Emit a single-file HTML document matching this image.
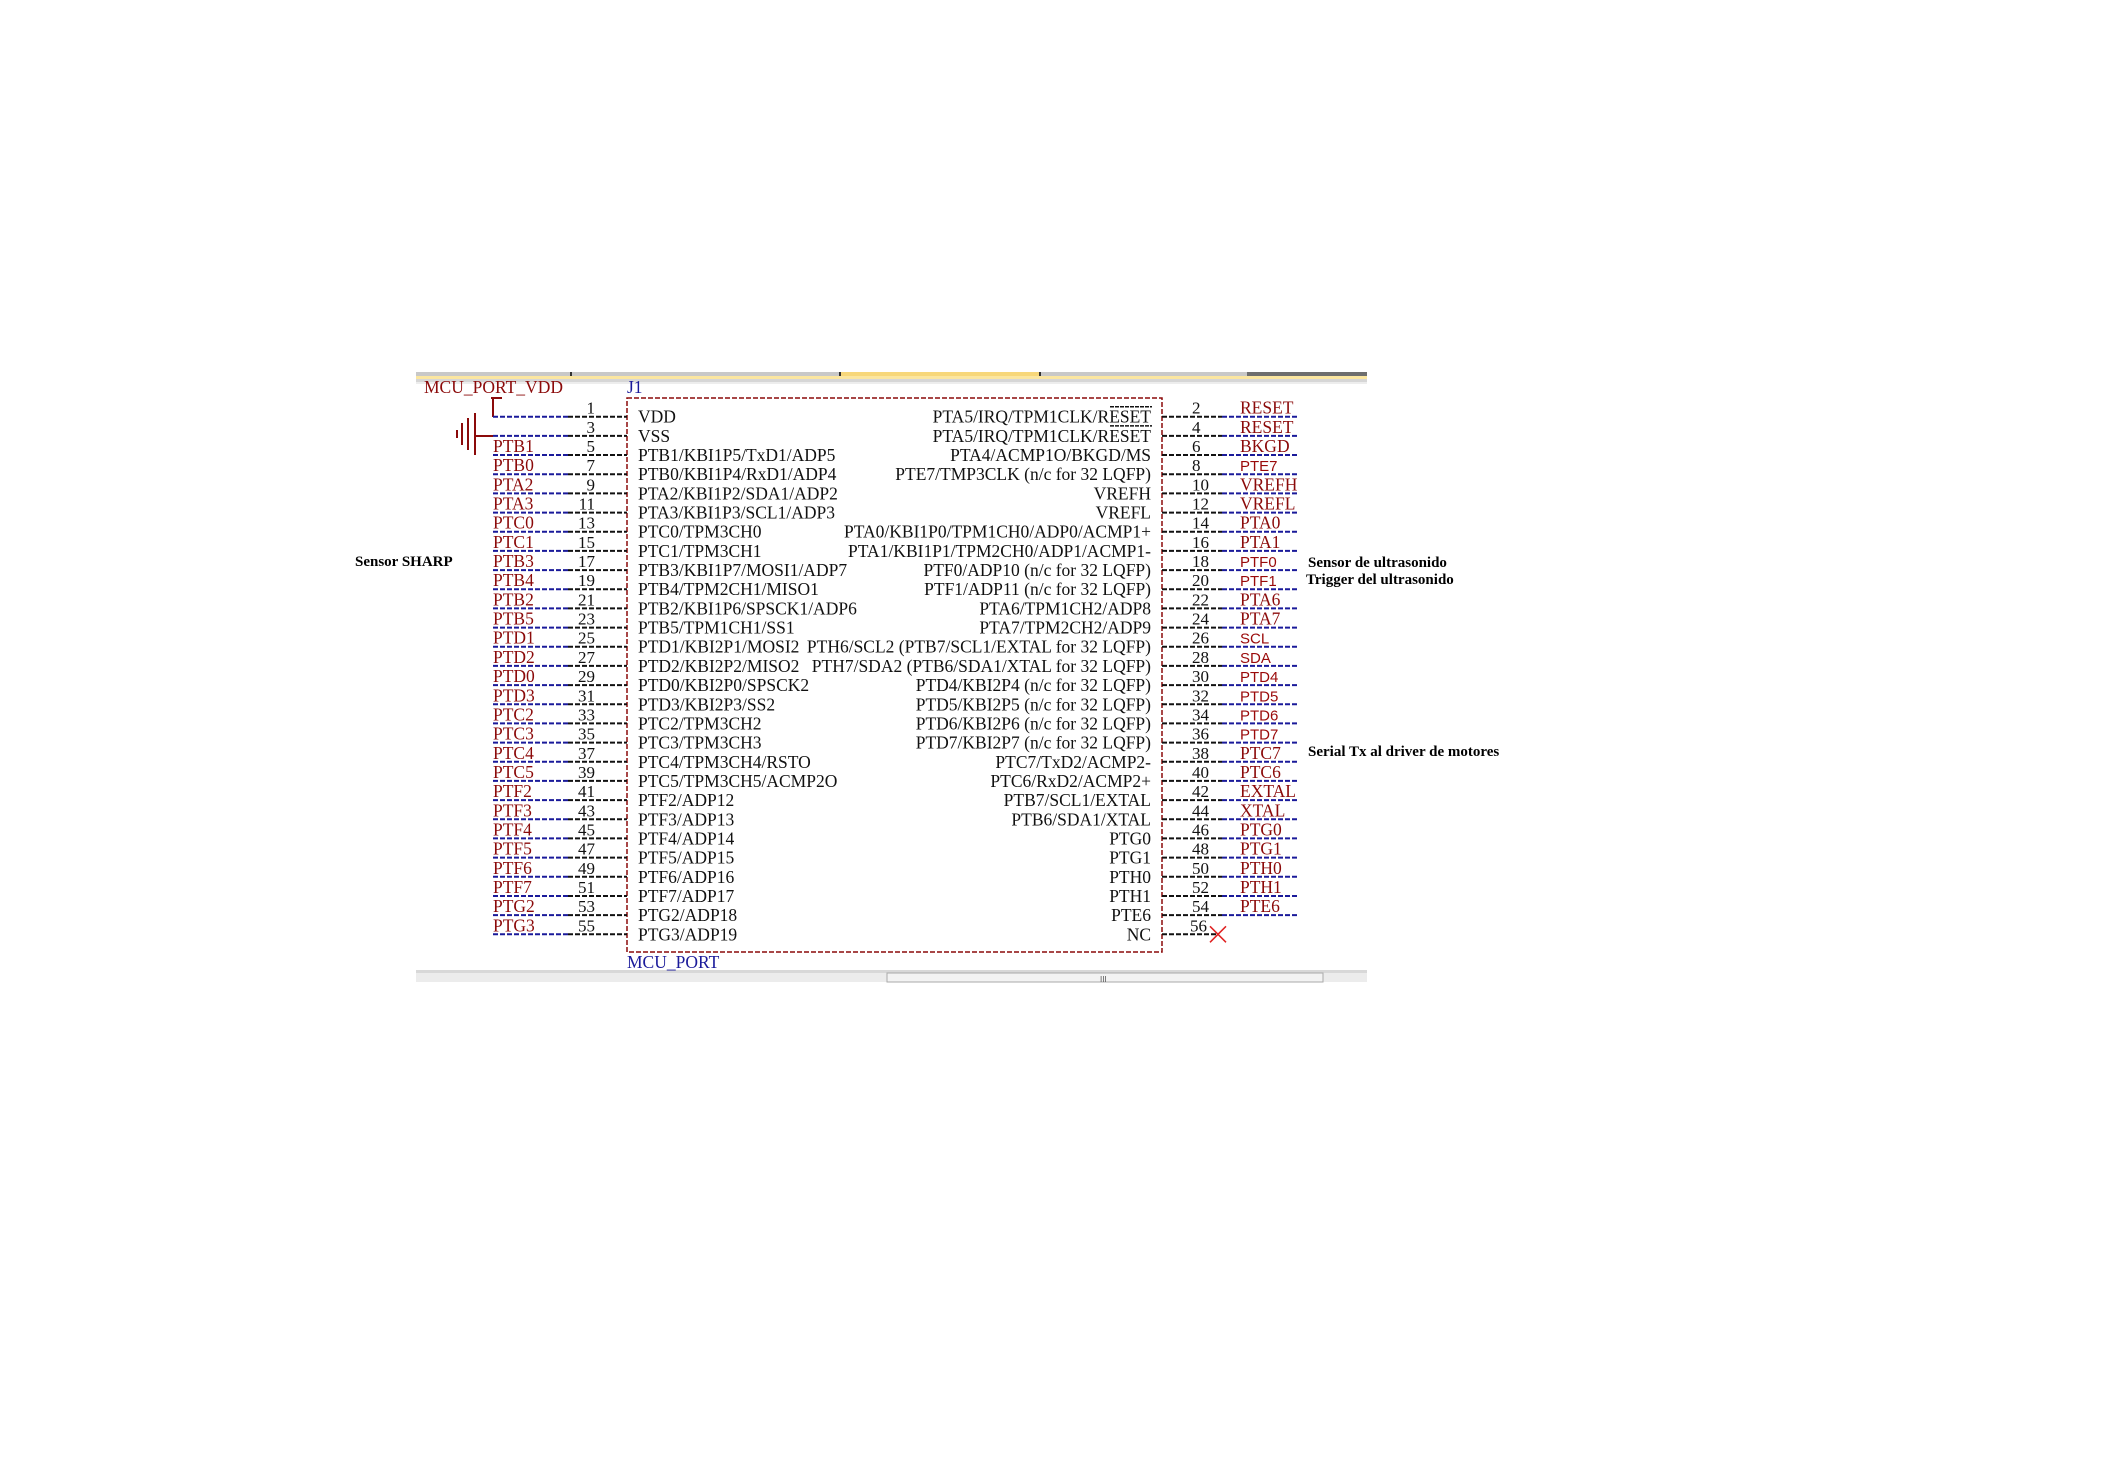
<!DOCTYPE html>
<html><head><meta charset="utf-8"><style>
html,body{margin:0;padding:0;background:#fff}
svg{display:block}
.t{font-family:"Liberation Serif",serif;font-size:17.5px;fill:#111}
.p{font-family:"Liberation Serif",serif;font-size:17px;fill:#111}
.n{font-family:"Liberation Serif",serif;font-size:17.5px;fill:#8b0a0a}
.s{font-family:"Liberation Sans",sans-serif;font-size:15px;fill:#9a0a0a}
.a{font-family:"Liberation Serif",serif;font-size:15px;font-weight:bold;fill:#000}
.b{stroke:#1a1a9a;stroke-width:2;stroke-dasharray:5 2}
.k{stroke:#111;stroke-width:2;stroke-dasharray:5 2}
</style></head><body>
<svg width="2108" height="1480" viewBox="0 0 2108 1480" xmlns="http://www.w3.org/2000/svg">
<rect width="2108" height="1480" fill="#fff"/>
<!-- top bar -->
<rect x="416" y="372" width="951" height="4" fill="#c8c8c8"/>
<rect x="840" y="372" width="200" height="4" fill="#f7d77a"/>
<rect x="1247" y="372" width="120" height="4" fill="#6e6e6e"/>
<rect x="416" y="376" width="951" height="3" fill="#fbe6a0"/>
<rect x="416" y="379" width="951" height="3" fill="#d6d6d6"/>
<rect x="416" y="382" width="951" height="2" fill="#ededed"/>
<rect x="570" y="372" width="2" height="4" fill="#333"/>
<rect x="839" y="372" width="2" height="4" fill="#333"/>
<rect x="1039" y="372" width="2" height="4" fill="#333"/>
<!-- bottom bar -->
<rect x="416" y="970" width="951" height="3" fill="#d8d8d8"/>
<rect x="416" y="973" width="951" height="9" fill="#ececec"/>
<rect x="887" y="973" width="436" height="9" fill="#f3f3f3" stroke="#aaa" stroke-width="1"/>
<text x="1100" y="982" font-family="Liberation Sans,sans-serif" font-size="8" fill="#555">III</text>
<!-- labels -->
<text x="424" y="393" class="n">MCU_PORT_VDD</text>
<text x="627" y="393" class="t" fill="#1a1a9a" style="fill:#1a1a9a">J1</text>
<text x="627" y="968" class="t" style="fill:#1a1a9a">MCU_PORT</text>
<rect x="627" y="398" width="535" height="554" fill="none" stroke="#8b0a0a" stroke-width="1.5" stroke-dasharray="5 2"/>
<!-- power -->
<line x1="491" y1="398" x2="502" y2="398" stroke="#8b0a0a" stroke-width="2"/>
<line x1="493" y1="398" x2="493" y2="417" stroke="#8b0a0a" stroke-width="2"/>
<line x1="475" y1="436" x2="493" y2="436" stroke="#8b0a0a" stroke-width="2"/>
<line x1="475" y1="413" x2="475" y2="455" stroke="#8b0a0a" stroke-width="2"/>
<line x1="468" y1="418" x2="468" y2="450" stroke="#8b0a0a" stroke-width="2"/>
<line x1="462" y1="423" x2="462" y2="445" stroke="#8b0a0a" stroke-width="2"/>
<line x1="457" y1="430" x2="457" y2="438" stroke="#8b0a0a" stroke-width="2"/>
<!-- annotations -->
<text x="355" y="566" class="a">Sensor SHARP</text>
<text x="1308" y="567" class="a">Sensor de ultrasonido</text>
<text x="1306" y="584" class="a">Trigger del ultrasonido</text>
<text x="1308" y="756" class="a">Serial Tx al driver de motores</text>

<g transform="translate(0,416.7)">
<line x1="493" y1="0" x2="568" y2="0" class="b"/><line x1="568" y1="0" x2="627" y2="0" class="k"/>
<text x="595" y="-3" class="p" text-anchor="end">1</text><text x="638" y="6" class="t">VDD</text>
<line x1="1162" y1="0" x2="1222" y2="0" class="k"/><line x1="1222" y1="0" x2="1298" y2="0" class="b"/>
<text x="1192" y="-3" class="p">2</text><text x="1240" y="-3" class="n">RESET</text><text x="1151" y="6" class="t" text-anchor="end">PTA5/IRQ/TPM1CLK/RESET</text>
<line x1="1110" y1="-10" x2="1152" y2="-10" stroke="#111" stroke-width="1.5" stroke-dasharray="4 1"/>
</g>
<g transform="translate(0,435.9)">
<line x1="493" y1="0" x2="568" y2="0" class="b"/><line x1="568" y1="0" x2="627" y2="0" class="k"/>
<text x="595" y="-3" class="p" text-anchor="end">3</text><text x="638" y="6" class="t">VSS</text>
<line x1="1162" y1="0" x2="1222" y2="0" class="k"/><line x1="1222" y1="0" x2="1298" y2="0" class="b"/>
<text x="1192" y="-3" class="p">4</text><text x="1240" y="-3" class="n">RESET</text><text x="1151" y="6" class="t" text-anchor="end">PTA5/IRQ/TPM1CLK/RESET</text>
<line x1="1110" y1="-10" x2="1152" y2="-10" stroke="#111" stroke-width="1.5" stroke-dasharray="4 1"/>
</g>
<g transform="translate(0,455.0)">
<line x1="493" y1="0" x2="568" y2="0" class="b"/><line x1="568" y1="0" x2="627" y2="0" class="k"/>
<text x="493" y="-3" class="n">PTB1</text><text x="595" y="-3" class="p" text-anchor="end">5</text><text x="638" y="6" class="t">PTB1/KBI1P5/TxD1/ADP5</text>
<line x1="1162" y1="0" x2="1222" y2="0" class="k"/><line x1="1222" y1="0" x2="1298" y2="0" class="b"/>
<text x="1192" y="-3" class="p">6</text><text x="1240" y="-3" class="n">BKGD</text><text x="1151" y="6" class="t" text-anchor="end">PTA4/ACMP1O/BKGD/MS</text>
</g>
<g transform="translate(0,474.2)">
<line x1="493" y1="0" x2="568" y2="0" class="b"/><line x1="568" y1="0" x2="627" y2="0" class="k"/>
<text x="493" y="-3" class="n">PTB0</text><text x="595" y="-3" class="p" text-anchor="end">7</text><text x="638" y="6" class="t">PTB0/KBI1P4/RxD1/ADP4</text>
<line x1="1162" y1="0" x2="1222" y2="0" class="k"/><line x1="1222" y1="0" x2="1298" y2="0" class="b"/>
<text x="1192" y="-3" class="p">8</text><text x="1240" y="-3" class="s">PTE7</text><text x="1151" y="6" class="t" text-anchor="end">PTE7/TMP3CLK (n/c for 32 LQFP)</text>
</g>
<g transform="translate(0,493.4)">
<line x1="493" y1="0" x2="568" y2="0" class="b"/><line x1="568" y1="0" x2="627" y2="0" class="k"/>
<text x="493" y="-3" class="n">PTA2</text><text x="595" y="-3" class="p" text-anchor="end">9</text><text x="638" y="6" class="t">PTA2/KBI1P2/SDA1/ADP2</text>
<line x1="1162" y1="0" x2="1222" y2="0" class="k"/><line x1="1222" y1="0" x2="1298" y2="0" class="b"/>
<text x="1192" y="-3" class="p">10</text><text x="1240" y="-3" class="n">VREFH</text><text x="1151" y="6" class="t" text-anchor="end">VREFH</text>
</g>
<g transform="translate(0,512.6)">
<line x1="493" y1="0" x2="568" y2="0" class="b"/><line x1="568" y1="0" x2="627" y2="0" class="k"/>
<text x="493" y="-3" class="n">PTA3</text><text x="595" y="-3" class="p" text-anchor="end">11</text><text x="638" y="6" class="t">PTA3/KBI1P3/SCL1/ADP3</text>
<line x1="1162" y1="0" x2="1222" y2="0" class="k"/><line x1="1222" y1="0" x2="1298" y2="0" class="b"/>
<text x="1192" y="-3" class="p">12</text><text x="1240" y="-3" class="n">VREFL</text><text x="1151" y="6" class="t" text-anchor="end">VREFL</text>
</g>
<g transform="translate(0,531.7)">
<line x1="493" y1="0" x2="568" y2="0" class="b"/><line x1="568" y1="0" x2="627" y2="0" class="k"/>
<text x="493" y="-3" class="n">PTC0</text><text x="595" y="-3" class="p" text-anchor="end">13</text><text x="638" y="6" class="t">PTC0/TPM3CH0</text>
<line x1="1162" y1="0" x2="1222" y2="0" class="k"/><line x1="1222" y1="0" x2="1298" y2="0" class="b"/>
<text x="1192" y="-3" class="p">14</text><text x="1240" y="-3" class="n">PTA0</text><text x="1151" y="6" class="t" text-anchor="end">PTA0/KBI1P0/TPM1CH0/ADP0/ACMP1+</text>
</g>
<g transform="translate(0,550.9)">
<line x1="493" y1="0" x2="568" y2="0" class="b"/><line x1="568" y1="0" x2="627" y2="0" class="k"/>
<text x="493" y="-3" class="n">PTC1</text><text x="595" y="-3" class="p" text-anchor="end">15</text><text x="638" y="6" class="t">PTC1/TPM3CH1</text>
<line x1="1162" y1="0" x2="1222" y2="0" class="k"/><line x1="1222" y1="0" x2="1298" y2="0" class="b"/>
<text x="1192" y="-3" class="p">16</text><text x="1240" y="-3" class="n">PTA1</text><text x="1151" y="6" class="t" text-anchor="end">PTA1/KBI1P1/TPM2CH0/ADP1/ACMP1-</text>
</g>
<g transform="translate(0,570.1)">
<line x1="493" y1="0" x2="568" y2="0" class="b"/><line x1="568" y1="0" x2="627" y2="0" class="k"/>
<text x="493" y="-3" class="n">PTB3</text><text x="595" y="-3" class="p" text-anchor="end">17</text><text x="638" y="6" class="t">PTB3/KBI1P7/MOSI1/ADP7</text>
<line x1="1162" y1="0" x2="1222" y2="0" class="k"/><line x1="1222" y1="0" x2="1298" y2="0" class="b"/>
<text x="1192" y="-3" class="p">18</text><text x="1240" y="-3" class="s">PTF0</text><text x="1151" y="6" class="t" text-anchor="end">PTF0/ADP10 (n/c for 32 LQFP)</text>
</g>
<g transform="translate(0,589.2)">
<line x1="493" y1="0" x2="568" y2="0" class="b"/><line x1="568" y1="0" x2="627" y2="0" class="k"/>
<text x="493" y="-3" class="n">PTB4</text><text x="595" y="-3" class="p" text-anchor="end">19</text><text x="638" y="6" class="t">PTB4/TPM2CH1/MISO1</text>
<line x1="1162" y1="0" x2="1222" y2="0" class="k"/><line x1="1222" y1="0" x2="1298" y2="0" class="b"/>
<text x="1192" y="-3" class="p">20</text><text x="1240" y="-3" class="s">PTF1</text><text x="1151" y="6" class="t" text-anchor="end">PTF1/ADP11 (n/c for 32 LQFP)</text>
</g>
<g transform="translate(0,608.4)">
<line x1="493" y1="0" x2="568" y2="0" class="b"/><line x1="568" y1="0" x2="627" y2="0" class="k"/>
<text x="493" y="-3" class="n">PTB2</text><text x="595" y="-3" class="p" text-anchor="end">21</text><text x="638" y="6" class="t">PTB2/KBI1P6/SPSCK1/ADP6</text>
<line x1="1162" y1="0" x2="1222" y2="0" class="k"/><line x1="1222" y1="0" x2="1298" y2="0" class="b"/>
<text x="1192" y="-3" class="p">22</text><text x="1240" y="-3" class="n">PTA6</text><text x="1151" y="6" class="t" text-anchor="end">PTA6/TPM1CH2/ADP8</text>
</g>
<g transform="translate(0,627.6)">
<line x1="493" y1="0" x2="568" y2="0" class="b"/><line x1="568" y1="0" x2="627" y2="0" class="k"/>
<text x="493" y="-3" class="n">PTB5</text><text x="595" y="-3" class="p" text-anchor="end">23</text><text x="638" y="6" class="t">PTB5/TPM1CH1/SS1</text>
<line x1="1162" y1="0" x2="1222" y2="0" class="k"/><line x1="1222" y1="0" x2="1298" y2="0" class="b"/>
<text x="1192" y="-3" class="p">24</text><text x="1240" y="-3" class="n">PTA7</text><text x="1151" y="6" class="t" text-anchor="end">PTA7/TPM2CH2/ADP9</text>
</g>
<g transform="translate(0,646.7)">
<line x1="493" y1="0" x2="568" y2="0" class="b"/><line x1="568" y1="0" x2="627" y2="0" class="k"/>
<text x="493" y="-3" class="n">PTD1</text><text x="595" y="-3" class="p" text-anchor="end">25</text><text x="638" y="6" class="t">PTD1/KBI2P1/MOSI2</text>
<line x1="1162" y1="0" x2="1222" y2="0" class="k"/><line x1="1222" y1="0" x2="1298" y2="0" class="b"/>
<text x="1192" y="-3" class="p">26</text><text x="1240" y="-3" class="s">SCL</text><text x="1151" y="6" class="t" text-anchor="end">PTH6/SCL2 (PTB7/SCL1/EXTAL for 32 LQFP)</text>
</g>
<g transform="translate(0,665.9)">
<line x1="493" y1="0" x2="568" y2="0" class="b"/><line x1="568" y1="0" x2="627" y2="0" class="k"/>
<text x="493" y="-3" class="n">PTD2</text><text x="595" y="-3" class="p" text-anchor="end">27</text><text x="638" y="6" class="t">PTD2/KBI2P2/MISO2</text>
<line x1="1162" y1="0" x2="1222" y2="0" class="k"/><line x1="1222" y1="0" x2="1298" y2="0" class="b"/>
<text x="1192" y="-3" class="p">28</text><text x="1240" y="-3" class="s">SDA</text><text x="1151" y="6" class="t" text-anchor="end">PTH7/SDA2 (PTB6/SDA1/XTAL for 32 LQFP)</text>
</g>
<g transform="translate(0,685.1)">
<line x1="493" y1="0" x2="568" y2="0" class="b"/><line x1="568" y1="0" x2="627" y2="0" class="k"/>
<text x="493" y="-3" class="n">PTD0</text><text x="595" y="-3" class="p" text-anchor="end">29</text><text x="638" y="6" class="t">PTD0/KBI2P0/SPSCK2</text>
<line x1="1162" y1="0" x2="1222" y2="0" class="k"/><line x1="1222" y1="0" x2="1298" y2="0" class="b"/>
<text x="1192" y="-3" class="p">30</text><text x="1240" y="-3" class="s">PTD4</text><text x="1151" y="6" class="t" text-anchor="end">PTD4/KBI2P4 (n/c for 32 LQFP)</text>
</g>
<g transform="translate(0,704.3)">
<line x1="493" y1="0" x2="568" y2="0" class="b"/><line x1="568" y1="0" x2="627" y2="0" class="k"/>
<text x="493" y="-3" class="n">PTD3</text><text x="595" y="-3" class="p" text-anchor="end">31</text><text x="638" y="6" class="t">PTD3/KBI2P3/SS2</text>
<line x1="1162" y1="0" x2="1222" y2="0" class="k"/><line x1="1222" y1="0" x2="1298" y2="0" class="b"/>
<text x="1192" y="-3" class="p">32</text><text x="1240" y="-3" class="s">PTD5</text><text x="1151" y="6" class="t" text-anchor="end">PTD5/KBI2P5 (n/c for 32 LQFP)</text>
</g>
<g transform="translate(0,723.4)">
<line x1="493" y1="0" x2="568" y2="0" class="b"/><line x1="568" y1="0" x2="627" y2="0" class="k"/>
<text x="493" y="-3" class="n">PTC2</text><text x="595" y="-3" class="p" text-anchor="end">33</text><text x="638" y="6" class="t">PTC2/TPM3CH2</text>
<line x1="1162" y1="0" x2="1222" y2="0" class="k"/><line x1="1222" y1="0" x2="1298" y2="0" class="b"/>
<text x="1192" y="-3" class="p">34</text><text x="1240" y="-3" class="s">PTD6</text><text x="1151" y="6" class="t" text-anchor="end">PTD6/KBI2P6 (n/c for 32 LQFP)</text>
</g>
<g transform="translate(0,742.6)">
<line x1="493" y1="0" x2="568" y2="0" class="b"/><line x1="568" y1="0" x2="627" y2="0" class="k"/>
<text x="493" y="-3" class="n">PTC3</text><text x="595" y="-3" class="p" text-anchor="end">35</text><text x="638" y="6" class="t">PTC3/TPM3CH3</text>
<line x1="1162" y1="0" x2="1222" y2="0" class="k"/><line x1="1222" y1="0" x2="1298" y2="0" class="b"/>
<text x="1192" y="-3" class="p">36</text><text x="1240" y="-3" class="s">PTD7</text><text x="1151" y="6" class="t" text-anchor="end">PTD7/KBI2P7 (n/c for 32 LQFP)</text>
</g>
<g transform="translate(0,761.8)">
<line x1="493" y1="0" x2="568" y2="0" class="b"/><line x1="568" y1="0" x2="627" y2="0" class="k"/>
<text x="493" y="-3" class="n">PTC4</text><text x="595" y="-3" class="p" text-anchor="end">37</text><text x="638" y="6" class="t">PTC4/TPM3CH4/RSTO</text>
<line x1="1162" y1="0" x2="1222" y2="0" class="k"/><line x1="1222" y1="0" x2="1298" y2="0" class="b"/>
<text x="1192" y="-3" class="p">38</text><text x="1240" y="-3" class="n">PTC7</text><text x="1151" y="6" class="t" text-anchor="end">PTC7/TxD2/ACMP2-</text>
</g>
<g transform="translate(0,780.9)">
<line x1="493" y1="0" x2="568" y2="0" class="b"/><line x1="568" y1="0" x2="627" y2="0" class="k"/>
<text x="493" y="-3" class="n">PTC5</text><text x="595" y="-3" class="p" text-anchor="end">39</text><text x="638" y="6" class="t">PTC5/TPM3CH5/ACMP2O</text>
<line x1="1162" y1="0" x2="1222" y2="0" class="k"/><line x1="1222" y1="0" x2="1298" y2="0" class="b"/>
<text x="1192" y="-3" class="p">40</text><text x="1240" y="-3" class="n">PTC6</text><text x="1151" y="6" class="t" text-anchor="end">PTC6/RxD2/ACMP2+</text>
</g>
<g transform="translate(0,800.1)">
<line x1="493" y1="0" x2="568" y2="0" class="b"/><line x1="568" y1="0" x2="627" y2="0" class="k"/>
<text x="493" y="-3" class="n">PTF2</text><text x="595" y="-3" class="p" text-anchor="end">41</text><text x="638" y="6" class="t">PTF2/ADP12</text>
<line x1="1162" y1="0" x2="1222" y2="0" class="k"/><line x1="1222" y1="0" x2="1298" y2="0" class="b"/>
<text x="1192" y="-3" class="p">42</text><text x="1240" y="-3" class="n">EXTAL</text><text x="1151" y="6" class="t" text-anchor="end">PTB7/SCL1/EXTAL</text>
</g>
<g transform="translate(0,819.3)">
<line x1="493" y1="0" x2="568" y2="0" class="b"/><line x1="568" y1="0" x2="627" y2="0" class="k"/>
<text x="493" y="-3" class="n">PTF3</text><text x="595" y="-3" class="p" text-anchor="end">43</text><text x="638" y="6" class="t">PTF3/ADP13</text>
<line x1="1162" y1="0" x2="1222" y2="0" class="k"/><line x1="1222" y1="0" x2="1298" y2="0" class="b"/>
<text x="1192" y="-3" class="p">44</text><text x="1240" y="-3" class="n">XTAL</text><text x="1151" y="6" class="t" text-anchor="end">PTB6/SDA1/XTAL</text>
</g>
<g transform="translate(0,838.4)">
<line x1="493" y1="0" x2="568" y2="0" class="b"/><line x1="568" y1="0" x2="627" y2="0" class="k"/>
<text x="493" y="-3" class="n">PTF4</text><text x="595" y="-3" class="p" text-anchor="end">45</text><text x="638" y="6" class="t">PTF4/ADP14</text>
<line x1="1162" y1="0" x2="1222" y2="0" class="k"/><line x1="1222" y1="0" x2="1298" y2="0" class="b"/>
<text x="1192" y="-3" class="p">46</text><text x="1240" y="-3" class="n">PTG0</text><text x="1151" y="6" class="t" text-anchor="end">PTG0</text>
</g>
<g transform="translate(0,857.6)">
<line x1="493" y1="0" x2="568" y2="0" class="b"/><line x1="568" y1="0" x2="627" y2="0" class="k"/>
<text x="493" y="-3" class="n">PTF5</text><text x="595" y="-3" class="p" text-anchor="end">47</text><text x="638" y="6" class="t">PTF5/ADP15</text>
<line x1="1162" y1="0" x2="1222" y2="0" class="k"/><line x1="1222" y1="0" x2="1298" y2="0" class="b"/>
<text x="1192" y="-3" class="p">48</text><text x="1240" y="-3" class="n">PTG1</text><text x="1151" y="6" class="t" text-anchor="end">PTG1</text>
</g>
<g transform="translate(0,876.8)">
<line x1="493" y1="0" x2="568" y2="0" class="b"/><line x1="568" y1="0" x2="627" y2="0" class="k"/>
<text x="493" y="-3" class="n">PTF6</text><text x="595" y="-3" class="p" text-anchor="end">49</text><text x="638" y="6" class="t">PTF6/ADP16</text>
<line x1="1162" y1="0" x2="1222" y2="0" class="k"/><line x1="1222" y1="0" x2="1298" y2="0" class="b"/>
<text x="1192" y="-3" class="p">50</text><text x="1240" y="-3" class="n">PTH0</text><text x="1151" y="6" class="t" text-anchor="end">PTH0</text>
</g>
<g transform="translate(0,896.0)">
<line x1="493" y1="0" x2="568" y2="0" class="b"/><line x1="568" y1="0" x2="627" y2="0" class="k"/>
<text x="493" y="-3" class="n">PTF7</text><text x="595" y="-3" class="p" text-anchor="end">51</text><text x="638" y="6" class="t">PTF7/ADP17</text>
<line x1="1162" y1="0" x2="1222" y2="0" class="k"/><line x1="1222" y1="0" x2="1298" y2="0" class="b"/>
<text x="1192" y="-3" class="p">52</text><text x="1240" y="-3" class="n">PTH1</text><text x="1151" y="6" class="t" text-anchor="end">PTH1</text>
</g>
<g transform="translate(0,915.1)">
<line x1="493" y1="0" x2="568" y2="0" class="b"/><line x1="568" y1="0" x2="627" y2="0" class="k"/>
<text x="493" y="-3" class="n">PTG2</text><text x="595" y="-3" class="p" text-anchor="end">53</text><text x="638" y="6" class="t">PTG2/ADP18</text>
<line x1="1162" y1="0" x2="1222" y2="0" class="k"/><line x1="1222" y1="0" x2="1298" y2="0" class="b"/>
<text x="1192" y="-3" class="p">54</text><text x="1240" y="-3" class="n">PTE6</text><text x="1151" y="6" class="t" text-anchor="end">PTE6</text>
</g>
<g transform="translate(0,934.3)">
<line x1="493" y1="0" x2="568" y2="0" class="b"/><line x1="568" y1="0" x2="627" y2="0" class="k"/>
<text x="493" y="-3" class="n">PTG3</text><text x="595" y="-3" class="p" text-anchor="end">55</text><text x="638" y="6" class="t">PTG3/ADP19</text>
<line x1="1162" y1="0" x2="1218" y2="0" class="k"/>
<text x="1190" y="-3" class="p">56</text><text x="1151" y="6" class="t" text-anchor="end">NC</text>
<line x1="1210" y1="-8" x2="1226" y2="8" stroke="#e02020" stroke-width="1.5"/>
<line x1="1226" y1="-8" x2="1210" y2="8" stroke="#e02020" stroke-width="1.5"/>
</g>
</svg>
</body></html>
